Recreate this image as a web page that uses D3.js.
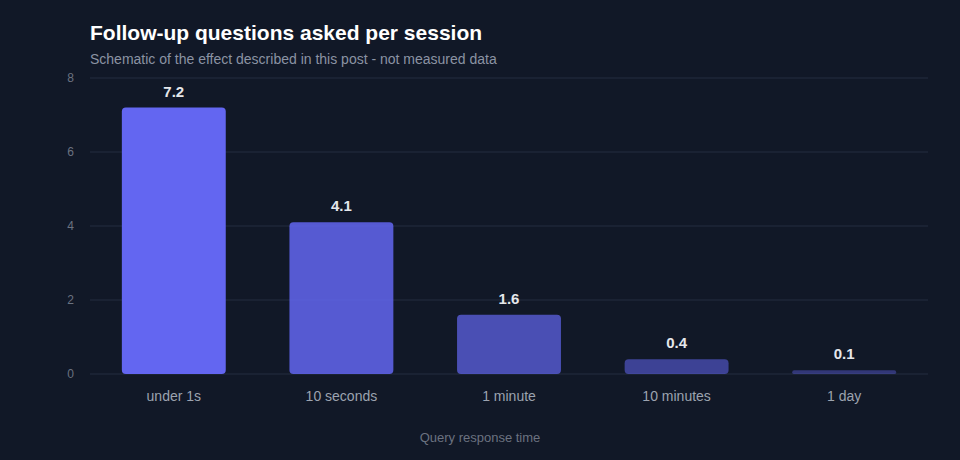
<!DOCTYPE html>
<html>
<head>
<meta charset="utf-8">
<script src="https://cdn.jsdelivr.net/npm/d3@7"></script>
<style>
  html, body { margin: 0; padding: 0; background: #111827; }
  svg { display: block; font-family: "Helvetica Neue", Helvetica, Arial, "Liberation Sans", sans-serif; }
</style>
</head>
<body>
<svg id="chart" width="960" height="460"></svg>
<script>
const categories = ["under 1s", "10 seconds", "1 minute", "10 minutes", "1 day"];
const values = [7.2, 4.1, 1.6, 0.4, 0.1];
const yTicks = [0, 2, 4, 6, 8];

const width = 960;
const height = 460;
const margin = { top: 78, right: 32, bottom: 86, left: 90 };

const svg = d3.select("#chart");

svg.append("rect")
  .attr("width", width)
  .attr("height", height)
  .attr("fill", "#111827");

const x = d3.scaleBand()
  .domain(categories)
  .range([margin.left, width - margin.right])
  .paddingInner(0.38)
  .paddingOuter(0.19);

const y = d3.scaleLinear()
  .domain([0, 8])
  .range([height - margin.bottom, margin.top]);

// gridlines
svg.append("g")
  .selectAll("line")
  .data(yTicks)
  .enter()
  .append("line")
  .attr("x1", margin.left)
  .attr("x2", width - margin.right)
  .attr("y1", (d) => y(d))
  .attr("y2", (d) => y(d))
  .attr("stroke", "#1e2638")
  .attr("stroke-width", 1.5);

// y axis labels
const yAxis = svg.append("g")
  .attr("transform", `translate(${margin.left - 16},0)`)
  .call(d3.axisLeft(y).tickValues(yTicks).tickSize(0).tickPadding(0));
yAxis.select(".domain").remove();
yAxis.selectAll("text")
  .attr("fill", "#6b7280")
  .attr("font-size", 12)
  .attr("font-family", "inherit");

// x axis labels
const xAxis = svg.append("g")
  .attr("transform", `translate(0,${height - margin.bottom})`)
  .call(d3.axisBottom(x).tickSize(0).tickPadding(17));
xAxis.select(".domain").remove();
xAxis.selectAll("text")
  .attr("fill", "#9ca3af")
  .attr("font-size", 14)
  .attr("font-family", "inherit");

// bars - fade with slower response
const opacity = (i) => 1 - i * 0.15;

svg.append("g")
  .selectAll("rect")
  .data(values)
  .enter()
  .append("rect")
  .attr("x", (d, i) => x(categories[i]))
  .attr("y", (d) => y(d))
  .attr("width", x.bandwidth())
  .attr("height", (d) => y(0) - y(d))
  .attr("rx", (d) => Math.min(4, (y(0) - y(d)) / 2))
  .attr("fill", "#6366f1")
  .attr("fill-opacity", (d, i) => opacity(i));

// value labels
svg.append("g")
  .selectAll("text")
  .data(values)
  .enter()
  .append("text")
  .attr("x", (d, i) => x(categories[i]) + x.bandwidth() / 2)
  .attr("y", (d) => y(d) - 11)
  .attr("text-anchor", "middle")
  .attr("fill", "#e5e7eb")
  .attr("font-size", 15)
  .attr("font-weight", "bold")
  .text((d) => d3.format(".1f")(d));

// axis title
svg.append("text")
  .attr("x", width / 2)
  .attr("y", 442)
  .attr("text-anchor", "middle")
  .attr("fill", "#6b7280")
  .attr("font-size", 13)
  .text("Query response time");

// title and subtitle
svg.append("text")
  .attr("x", margin.left)
  .attr("y", 40)
  .attr("fill", "#ffffff")
  .attr("font-size", 21)
  .attr("font-weight", "bold")
  .text("Follow-up questions asked per session");

svg.append("text")
  .attr("x", margin.left)
  .attr("y", 64)
  .attr("fill", "#8b93a3")
  .attr("font-size", 14)
  .text("Schematic of the effect described in this post - not measured data");
</script>
</body>
</html>
